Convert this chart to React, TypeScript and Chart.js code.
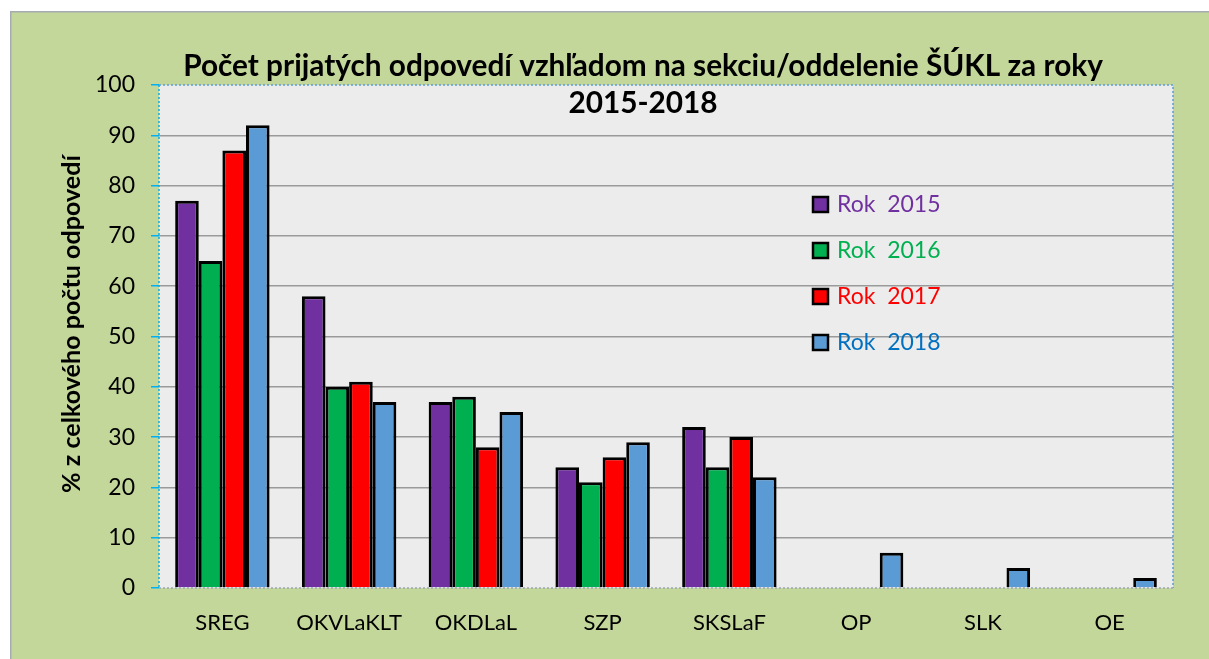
import React, { useEffect, useRef } from "react";
import { Chart, registerables } from "chart.js";
Chart.register(...registerables);

const categories = ["SREG", "OKVLaKLT", "OKDLaL", "SZP", "SKSLaF", "OP", "SLK", "OE"];
const rok2015 = [77, 58, 37, 24, 32, null, null, null];
const rok2016 = [65, 40, 38, 21, 24, null, null, null];
const rok2017 = [87, 41, 28, 26, 30, null, null, null];
const rok2018 = [92, 37, 35, 29, 22, 7, 4, 2];
const seriesLabels = ["Rok  2015", "Rok  2016", "Rok  2017", "Rok  2018"];
const seriesColors = ["#7030a0", "#00b050", "#ff0000", "#5b9bd5"];
const legendTextColors = ["#7030a0", "#00b050", "#ff0000", "#0070c0"];
const titleLines = ["Počet prijatých odpovedí vzhľadom na sekciu/oddelenie ŠÚKL za roky", "2015-2018"];
const yTitle = "% z celkového počtu odpovedí";
const yMin = 0;
const yMax = 100;
const yStep = 10;

const FONT = "Lato, 'Open Sans', sans-serif";

function fitFont(ctx: CanvasRenderingContext2D, text: string, width: number, weight: string) {
  ctx.font = `${weight} 100px ${FONT}`;
  const w = ctx.measureText(text).width;
  return (100 * width) / w;
}

const decorPlugin = {
  id: "decor",
  beforeDraw(chart: any) {
    const { ctx, chartArea: a, width, height } = chart;
    ctx.save();
    ctx.fillStyle = "#c4d79b";
    ctx.fillRect(0, 0, width, height);
    ctx.strokeStyle = "#a4acb2";
    ctx.lineWidth = 1.5;
    ctx.beginPath();
    ctx.moveTo(0.75, height);
    ctx.lineTo(0.75, 0.75);
    ctx.lineTo(width, 0.75);
    ctx.stroke();
    ctx.fillStyle = "#ececec";
    ctx.fillRect(a.left, a.top, a.right - a.left, a.bottom - a.top);
    ctx.restore();
  },
  afterDraw(chart: any) {
    const { ctx, chartArea: a } = chart;
    ctx.save();
    // plot border
    ctx.setLineDash([2, 2]);
    ctx.lineWidth = 1.5;
    ctx.strokeStyle = "#5b9bd5";
    ctx.beginPath();
    ctx.moveTo(a.left, a.top);
    ctx.lineTo(a.right, a.top);
    ctx.lineTo(a.right, a.bottom);
    ctx.stroke();
    ctx.strokeStyle = "#9aa7b4";
    ctx.beginPath();
    ctx.moveTo(a.left, a.bottom);
    ctx.lineTo(a.right, a.bottom);
    ctx.stroke();
    ctx.strokeStyle = "#00b0f0";
    ctx.beginPath();
    ctx.moveTo(a.left, a.top);
    ctx.lineTo(a.left, a.bottom);
    ctx.stroke();
    ctx.setLineDash([]);

    // title
    ctx.fillStyle = "#000";
    ctx.textAlign = "center";
    ctx.textBaseline = "middle";
    const ts = fitFont(ctx, titleLines[0], 920, "bold");
    ctx.font = `bold ${ts}px ${FONT}`;
    ctx.fillText(titleLines[0], a.left + 484, a.top - 19);
    ctx.fillText(titleLines[1], a.left + 484, a.top + 18);

    // y title
    const ys = fitFont(ctx, yTitle, 338, "bold");
    ctx.save();
    ctx.translate(62, a.top + 239);
    ctx.rotate(-Math.PI / 2);
    ctx.font = `bold ${ys}px ${FONT}`;
    ctx.fillText(yTitle, 0, 0);
    ctx.restore();

    // legend
    ctx.textAlign = "left";
    ctx.font = `23px ${FONT}`;
    for (let i = 0; i < seriesLabels.length; i++) {
      const cy = a.top + 119 + i * 46;
      const x = a.left + 654;
      ctx.fillStyle = seriesColors[i];
      ctx.fillRect(x, cy - 7, 15, 15);
      ctx.strokeStyle = "#000";
      ctx.lineWidth = 2.5;
      ctx.strokeRect(x, cy - 7, 15, 15);
      ctx.fillStyle = legendTextColors[i];
      ctx.fillText(seriesLabels[i], a.left + 678, cy + 1);
    }
    ctx.restore();
  },
};

export default function App() {
  const ref = useRef<HTMLCanvasElement>(null);
  useEffect(() => {
    if (!ref.current) return;
    const series = [rok2015, rok2016, rok2017, rok2018];
    const chart = new Chart(ref.current, {
      type: "bar",
      data: {
        labels: categories,
        datasets: series.map((d, i) => ({
          label: seriesLabels[i],
          data: d,
          backgroundColor: seriesColors[i],
          borderColor: "#000",
          borderWidth: 3,
          categoryPercentage: 0.745,
          barPercentage: 1,
        })),
      },
      options: {
        responsive: false,
        animation: false,
        layout: { padding: { left: 0, top: 74, right: 36, bottom: 0 } },
        plugins: { legend: { display: false }, title: { display: false }, tooltip: { enabled: false } },
        scales: {
          x: {
            grid: { display: false, drawTicks: false },
            border: { display: false },
            ticks: { color: "#000", font: { family: FONT, size: 22 }, padding: 22 },
            afterFit: (s: any) => { s.height = 71; },
          },
          y: {
            min: yMin,
            max: yMax,
            ticks: { stepSize: yStep, color: "#000", font: { family: FONT, size: 23 }, padding: 16 },
            grid: {
              color: (c: any) => (c.tick && (c.tick.value === yMin || c.tick.value === yMax) ? "rgba(0,0,0,0)" : "#9a9a9a"),
              lineWidth: 1.5,
              tickColor: "#00b0f0",
              tickLength: 8,
            },
            border: { display: false },
            afterFit: (s: any) => { s.width = 149; },
          },
        },
      },
      plugins: [decorPlugin],
    });
    return () => chart.destroy();
  }, []);
  return (
    <div style={{ position: "fixed", left: 0, top: 0, width: 1209, height: 659, background: "#fff" }}>
      <canvas ref={ref} width={1199} height={648} style={{ position: "absolute", left: 10, top: 11, width: 1199, height: 648 }} />
    </div>
  );
}
